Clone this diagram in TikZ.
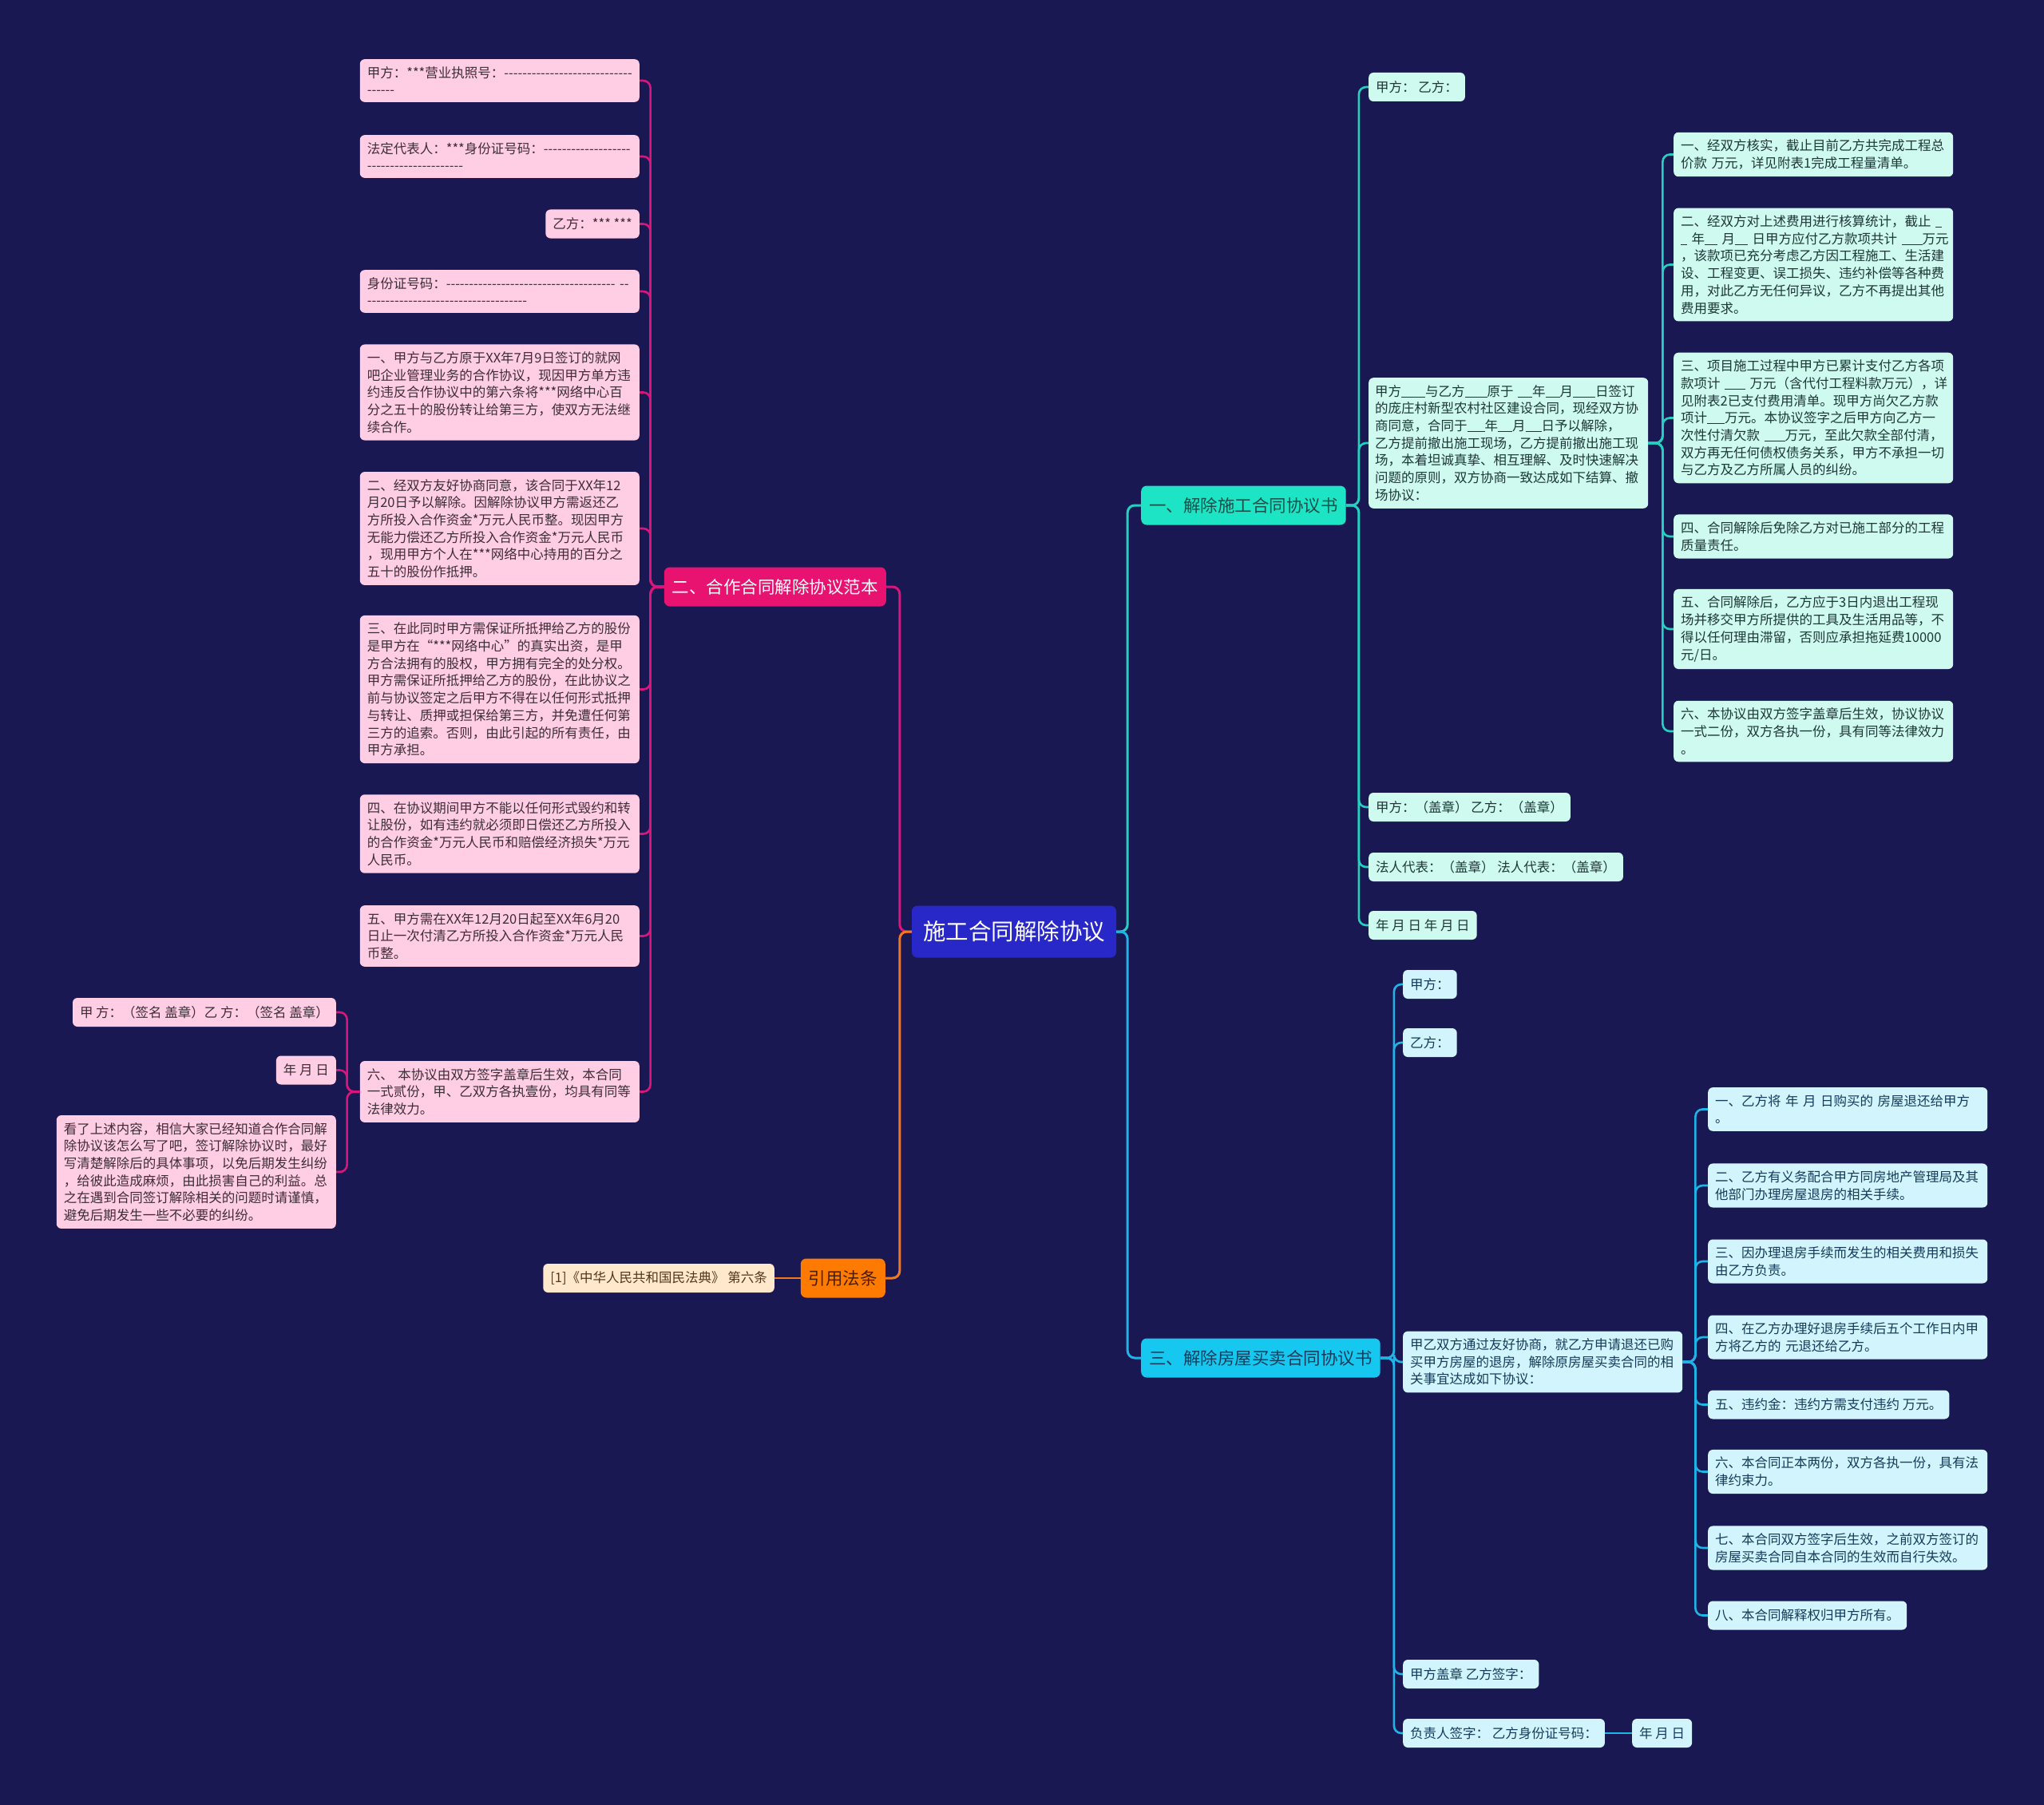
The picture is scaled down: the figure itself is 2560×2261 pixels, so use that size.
\documentclass[tikz,border=0pt]{standalone}
\usepackage{fontspec}
\setmainfont{Noto Sans CJK SC}[Ligatures=TeXOff]
\usepackage{tikz}
\definecolor{nightbg}{RGB}{26,24,82}
\definecolor{hubblue}{RGB}{40,40,200}
\definecolor{topicteal}{RGB}{28,228,196}
\definecolor{topicsky}{RGB}{22,200,240}
\definecolor{topicrose}{RGB}{232,18,112}
\definecolor{topicorange}{RGB}{255,122,0}
\definecolor{leafmint}{RGB}{206,250,240}
\definecolor{leafsky}{RGB}{210,244,252}
\definecolor{leafrose}{RGB}{255,206,228}
\definecolor{leafpeach}{RGB}{255,232,204}
\definecolor{lineteal}{RGB}{36,208,192}
\definecolor{linesky}{RGB}{30,180,232}
\definecolor{linerose}{RGB}{218,22,124}
\definecolor{lineorange}{RGB}{240,120,30}
\definecolor{inkteal}{RGB}{25,80,75}
\definecolor{inksky}{RGB}{20,60,90}
\definecolor{inkorange}{RGB}{70,30,0}
\definecolor{inkmint}{RGB}{30,55,55}
\definecolor{inkrose}{RGB}{60,45,55}
\definecolor{inkpeach}{RGB}{80,55,30}
% blank to fill in
\newcommand{\lineblank}[1]{\rule[-1.5pt]{#1pt}{1.1pt}}

\tikzset{
  leafbox/.style={rounded corners=6pt, inner xsep=9pt, inner ysep=9pt, minimum height=36pt,
                  align=left, font=\fontsize{16.5pt}{21.7pt}\selectfont},
  roseleaf/.style={leafbox, fill=leafrose, text=inkrose, anchor=east},
  mintleaf/.style={leafbox, fill=leafmint, text=inkmint, anchor=west},
  skyleaf/.style={leafbox, fill=leafsky, text=inksky, anchor=west},
  widebox/.style={text width=332pt},
  topic/.style={rounded corners=7pt, inner xsep=10pt, minimum height=49pt,
                font=\fontsize{21.5pt}{26pt}\selectfont},
  branch/.style={line width=2.6pt, rounded corners=9pt},
}

\begin{document}
\begin{tikzpicture}[x=1pt,y=-1pt]
  \fill[nightbg] (0,0) rectangle (2560,2261);
  \useasboundingbox (0,0) rectangle (2560,2261);

  % centre and main topics
  \node[fill=hubblue, text=white, rounded corners=7pt, inner xsep=14pt, minimum height=65pt,
        font=\fontsize{28.5pt}{32pt}\selectfont] (hub) at (1270,1167) {施工合同解除协议};
  \node[topic, fill=topicteal, text=inkteal, anchor=west] (build) at (1429,633) {一、解除施工合同协议书};
  \node[topic, fill=topicsky, text=inksky, anchor=west] (house) at (1429,1701) {三、解除房屋买卖合同协议书};
  \node[topic, fill=topicrose, text=white, anchor=east] (coop) at (1110,735) {二、合作合同解除协议范本};
  \node[topic, fill=topicorange, text=inkorange, anchor=east] (law) at (1109,1601) {引用法条};

  % 二 branch
  \node[roseleaf, widebox] (cp1) at (801,101) {甲方：***营业执照号：----------------------------\\------};
  \node[roseleaf, widebox] (cp2) at (801,196) {法定代表人：***身份证号码：-------------------\\---------------------};
  \node[roseleaf] (cp3) at (801,280.5) {乙方：*** ***};
  \node[roseleaf, widebox] (cp4) at (801,365) {身份证号码：------------------------------------- --\\-----------------------------------};
  \node[roseleaf, widebox] (cp5) at (801,491.5) {一、甲方与乙方原于XX年7月9日签订的就网\\吧企业管理业务的合作协议，现因甲方单方违\\约违反合作协议中的第六条将***网络中心百\\分之五十的股份转让给第三方，使双方无法继\\续合作。};
  \node[roseleaf, widebox] (cp6) at (801,662) {二、经双方友好协商同意，该合同于XX年12\\月20日予以解除。因解除协议甲方需返还乙\\方所投入合作资金*万元人民币整。现因甲方\\无能力偿还乙方所投入合作资金*万元人民币\\，现用甲方个人在***网络中心持用的百分之\\五十的股份作抵押。};
  \node[roseleaf, widebox] (cp7) at (801,863.5) {三、在此同时甲方需保证所抵押给乙方的股份\\是甲方在“***网络中心”的真实出资，是甲\\方合法拥有的股权，甲方拥有完全的处分权。\\甲方需保证所抵押给乙方的股份，在此协议之\\前与协议签定之后甲方不得在以任何形式抵押\\与转让、质押或担保给第三方，并免遭任何第\\三方的追索。否则，由此引起的所有责任，由\\甲方承担。};
  \node[roseleaf, widebox] (cp8) at (801,1044.5) {四、在协议期间甲方不能以任何形式毁约和转\\让股份，如有违约就必须即日偿还乙方所投入\\的合作资金*万元人民币和赔偿经济损失*万元\\人民币。};
  \node[roseleaf, widebox] (cp9) at (801,1172.5) {五、甲方需在XX年12月20日起至XX年6月20\\日止一次付清乙方所投入合作资金*万元人民\\币整。};
  \node[roseleaf, widebox] (cp10) at (801,1367.5) {六、 本协议由双方签字盖章后生效，本合同\\一式贰份，甲、乙双方各执壹份，均具有同等\\法律效力。};
  \node[roseleaf] (cs1) at (421,1268) {甲 方：（签名 盖章）乙 方：（签名 盖章）};
  \node[roseleaf] (cs2) at (421,1340.5) {年 月 日};
  \node[roseleaf, widebox] (cs3) at (421,1468) {看了上述内容，相信大家已经知道合作合同解\\除协议该怎么写了吧，签订解除协议时，最好\\写清楚解除后的具体事项，以免后期发生纠纷\\，给彼此造成麻烦，由此损害自己的利益。总\\之在遇到合同签订解除相关的问题时请谨慎，\\避免后期发生一些不必要的纠纷。};
  \node[leafbox, fill=leafpeach, text=inkpeach, anchor=east] (cite) at (970,1601) {[1]《中华人民共和国民法典》 第六条};

  % 一 branch
  \node[mintleaf] (bd1) at (1714,109) {甲方： 乙方：};
  \node[mintleaf, widebox, inner xsep=8pt, text width=334pt] (bd2) at (1714,555) {甲方\lineblank{30}与乙方\lineblank{28}原于~\lineblank{18}年\lineblank{18}月\lineblank{28}日签订\\的庞庄村新型农村社区建设合同，现经双方协\\商同意，合同于\lineblank{22}年\lineblank{18}月\lineblank{20}日予以解除，\\乙方提前撤出施工现场，乙方提前撤出施工现\\场，本着坦诚真挚、相互理解、及时快速解决\\问题的原则，双方协商一致达成如下结算、撤\\场协议：};
  \node[mintleaf] (bd3) at (1714,1011) {甲方：（盖章） 乙方：（盖章）};
  \node[mintleaf] (bd4) at (1714,1086) {法人代表：（盖章） 法人代表：（盖章）};
  \node[mintleaf] (bd5) at (1714,1159) {年 月 日 年 月 日};
  \node[mintleaf, widebox] (bt1) at (2096,193.5) {一、经双方核实，截止目前乙方共完成工程总\\价款 万元，详见附表1完成工程量清单。};
  \node[mintleaf, widebox] (bt2) at (2096,331.5) {二、经双方对上述费用进行核算统计，截止~\lineblank{8}\\\lineblank{8}~年\lineblank{16}~月\lineblank{16}~日甲方应付乙方款项共计~\lineblank{26}万元\\，该款项已充分考虑乙方因工程施工、生活建\\设、工程变更、误工损失、违约补偿等各种费\\用，对此乙方无任何异议，乙方不再提出其他\\费用要求。};
  \node[mintleaf, widebox] (bt3) at (2096,523.5) {三、项目施工过程中甲方已累计支付乙方各项\\款项计~\lineblank{26}~万元（含代付工程料款万元），详\\见附表2已支付费用清单。现甲方尚欠乙方款\\项计\lineblank{22}万元。本协议签字之后甲方向乙方一\\次性付清欠款~\lineblank{26}万元，至此欠款全部付清，\\双方再无任何债权债务关系，甲方不承担一切\\与乙方及乙方所属人员的纠纷。};
  \node[mintleaf, widebox] (bt4) at (2096,672) {四、合同解除后免除乙方对已施工部分的工程\\质量责任。};
  \node[mintleaf, widebox] (bt5) at (2096,788) {五、合同解除后，乙方应于3日内退出工程现\\场并移交甲方所提供的工具及生活用品等，不\\得以任何理由滞留，否则应承担拖延费10000\\元/日。};
  \node[mintleaf, widebox] (bt6) at (2096,916) {六、本协议由双方签字盖章后生效，协议协议\\一式二份，双方各执一份，具有同等法律效力\\。};

  % 三 branch
  \node[skyleaf] (hs1) at (1757,1233) {甲方：};
  \node[skyleaf] (hs2) at (1757,1306) {乙方：};
  \node[skyleaf, widebox] (hs3) at (1757,1706) {甲乙双方通过友好协商，就乙方申请退还已购\\买甲方房屋的退房，解除原房屋买卖合同的相\\关事宜达成如下协议：};
  \node[skyleaf] (hs4) at (1757,2097) {甲方盖章 乙方签字：};
  \node[skyleaf] (hs5) at (1757,2171) {负责人签字： 乙方身份证号码：};
  \node[skyleaf] (hsdate) at (2044,2171) {年 月 日};
  \node[skyleaf, widebox] (ht1) at (2139,1389.5) {一、乙方将 年 月 日购买的 房屋退还给甲方\\。};
  \node[skyleaf, widebox] (ht2) at (2139,1485) {二、乙方有义务配合甲方同房地产管理局及其\\他部门办理房屋退房的相关手续。};
  \node[skyleaf, widebox] (ht3) at (2139,1580) {三、因办理退房手续而发生的相关费用和损失\\由乙方负责。};
  \node[skyleaf, widebox] (ht4) at (2139,1675) {四、在乙方办理好退房手续后五个工作日内甲\\方将乙方的 元退还给乙方。};
  \node[skyleaf] (ht5) at (2139,1759.5) {五、违约金：违约方需支付违约 万元。};
  \node[skyleaf, widebox] (ht6) at (2139,1843.5) {六、本合同正本两份，双方各执一份，具有法\\律约束力。};
  \node[skyleaf, widebox] (ht7) at (2139,1939) {七、本合同双方签字后生效，之前双方签订的\\房屋买卖合同自本合同的生效而自行失效。};
  \node[skyleaf] (ht8) at (2139,2023.5) {八、本合同解释权归甲方所有。};

  % connectors
  \draw[branch, line width=3pt, lineteal] (hub.east) -- ++(14,0) |- (build.west);
  \draw[branch, line width=3pt, linesky] (hub.east) -- ++(14,0) |- (house.west);
  \draw[branch, line width=3pt, linerose] (hub.west) -- ++(-15,0) |- (coop.east);
  \draw[branch, line width=3pt, lineorange] (hub.west) -- ++(-15,0) |- (law.east);
  \draw[branch, lineorange] (law.west) -- (cite.east);
  \foreach \n in {1,...,10}
    \draw[branch, linerose] (coop.west) -- ++(-17,0) |- (cp\n.east);
  \foreach \n in {1,2,3}
    \draw[branch, linerose] (cp10.west) -- ++(-16,0) |- (cs\n.east);
  \foreach \n in {1,...,5}
    \draw[branch, lineteal] (build.east) -- ++(16,0) |- (bd\n.west);
  \foreach \n in {1,...,6}
    \draw[branch, lineteal] (bd2.east) -- ++(18,0) |- (bt\n.west);
  \foreach \n in {1,...,5}
    \draw[branch, linesky] (house.east) -- ++(17,0) |- (hs\n.west);
  \foreach \n in {1,...,8}
    \draw[branch, linesky] (hs3.east) -- ++(16,0) |- (ht\n.west);
  \draw[branch, linesky] (hs5.east) -- (hsdate.west);
\end{tikzpicture}
\end{document}
